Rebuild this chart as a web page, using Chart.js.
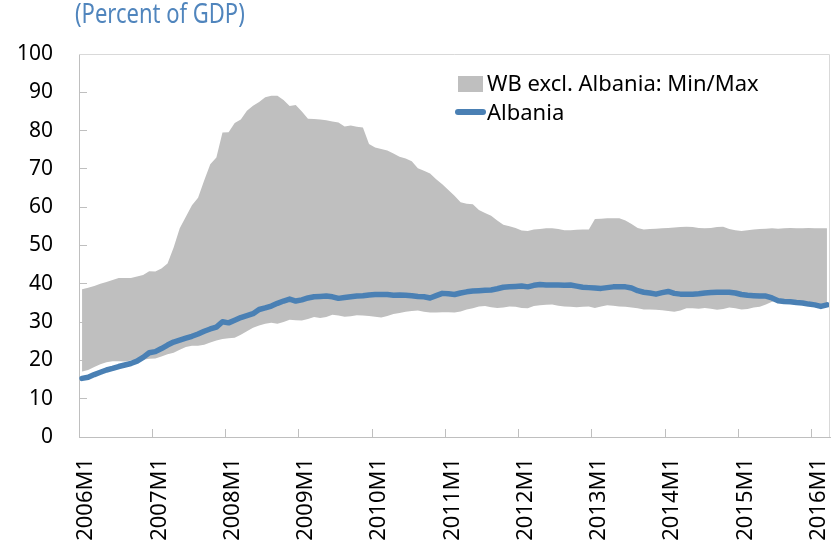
<!DOCTYPE html>
<html>
<head>
<meta charset="utf-8">
<script src="https://cdn.jsdelivr.net/npm/chart.js@4.4.1/dist/chart.umd.min.js"></script>
<style>
  html, body { margin: 0; padding: 0; background: #fff; }
  #wrap { position: relative; width: 831px; height: 541px; }
</style>
</head>
<body>
<div id="wrap"><canvas id="debtChart" width="831" height="541"></canvas></div>
<script>
// monthly, 2006M1 .. 2016M3
const months = [];
for (let y = 2006; y <= 2016; y++) {
    for (let m = 1; m <= 12; m++) {
        if (y === 2016 && m > 3) break;
        months.push(y + 'M' + m);
    }
}

const chartTitle = '(Percent of GDP)';
const bandLabel = 'WB excl. Albania: Min/Max';
const lineLabel = 'Albania';

const wbMax = [
    38.6, 39.0, 39.4, 40.0, 40.5, 41.0, 41.5, 41.5, 41.5, 41.9, 42.3, 43.3,
    43.2, 44.0, 45.3, 49.5, 54.5, 57.5, 60.5, 62.5, 67.0, 71.2, 73.0, 79.5,
    79.6, 82.0, 82.9, 85.2, 86.5, 87.5, 88.7, 89.1, 89.1, 88.0, 86.4, 86.7,
    85.0, 83.1, 83.0, 82.9, 82.7, 82.4, 82.1, 81.1, 81.3, 81.0, 80.8, 76.5,
    75.6, 75.2, 74.8, 74.0, 73.2, 72.7, 72.0, 70.2, 69.5, 68.8, 67.3, 66.0,
    64.5, 63.0, 61.3, 60.9, 60.8, 59.3, 58.5, 57.8, 56.5, 55.4, 55.0, 54.6,
    53.9, 53.8, 54.2, 54.3, 54.5, 54.5, 54.3, 54.0, 54.0, 54.1, 54.2, 54.2,
    56.9, 57.0, 57.1, 57.1, 57.1, 56.5, 55.6, 54.6, 54.2, 54.3, 54.4, 54.5,
    54.6, 54.7, 54.8, 54.9, 54.8, 54.6, 54.5, 54.6, 54.8, 54.9, 54.3, 54.0,
    53.8, 54.0, 54.2, 54.3, 54.4, 54.5, 54.4, 54.5, 54.6, 54.5, 54.5, 54.6,
    54.5, 54.5, 54.5
];

const wbMin = [
    17.1, 17.5, 18.3, 19.0, 19.5, 19.8, 19.8, 19.7, 20.0, 19.9, 20.2, 20.4,
    20.5, 21.0, 21.6, 22.0, 22.8, 23.5, 23.8, 23.8, 24.1, 24.7, 25.2, 25.6,
    25.8, 25.9, 26.7, 27.6, 28.5, 29.1, 29.6, 29.8, 29.6, 30.0, 30.6, 30.5,
    30.4, 30.8, 31.3, 31.1, 31.3, 31.9, 31.7, 31.4, 31.5, 31.8, 31.7, 31.6,
    31.4, 31.2, 31.6, 32.1, 32.4, 32.7, 32.9, 33.0, 32.7, 32.5, 32.5, 32.6,
    32.6, 32.5, 32.8, 33.3, 33.6, 34.1, 34.2, 33.9, 33.7, 33.8, 34.1, 34.0,
    33.7, 33.6, 34.2, 34.4, 34.5, 34.6, 34.3, 34.1, 34.0, 33.9, 34.0, 34.1,
    33.7, 34.1, 34.4, 34.3, 34.1, 34.0, 33.8, 33.6, 33.3, 33.3, 33.2, 33.1,
    32.9, 32.7, 33.0, 33.6, 33.6, 33.5, 33.7, 33.5, 33.2, 33.4, 33.8, 33.6,
    33.3, 33.4, 33.8, 34.0, 34.6, 35.3, 35.8, 35.8, 35.6, 35.4, 35.2, 34.9,
    34.8, 34.5, 34.8
];

const albania = [
    15.3, 15.6, 16.3, 16.9, 17.5, 17.9, 18.4, 18.8, 19.2, 19.8, 20.8, 22.0,
    22.3, 23.1, 24.0, 24.8, 25.3, 25.8, 26.3, 26.9, 27.6, 28.2, 28.7, 30.1,
    29.8, 30.5, 31.2, 31.7, 32.2, 33.3, 33.7, 34.2, 34.9, 35.5, 36.0, 35.5,
    35.8, 36.3, 36.6, 36.7, 36.8, 36.6, 36.2, 36.4, 36.6, 36.8, 36.9, 37.1,
    37.2, 37.2, 37.2, 37.0, 37.1, 37.0, 36.9, 36.7, 36.6, 36.3, 36.9, 37.5,
    37.4, 37.2, 37.6, 37.9, 38.1, 38.2, 38.3, 38.4, 38.7, 39.1, 39.2, 39.3,
    39.4, 39.2, 39.6, 39.8, 39.7, 39.7, 39.7, 39.6, 39.7, 39.4, 39.1, 39.0,
    38.9, 38.8, 39.0, 39.2, 39.2, 39.2, 38.9, 38.2, 37.8, 37.6, 37.3, 37.7,
    38.0, 37.5, 37.3, 37.3, 37.3, 37.4, 37.6, 37.7, 37.8, 37.8, 37.8, 37.6,
    37.2, 37.0, 36.9, 36.8, 36.8, 36.3, 35.6, 35.4, 35.3, 35.1, 35.0, 34.7,
    34.5, 34.1, 34.5
];

const FONT = '"Noto Sans", "Open Sans", sans-serif';
const axisGray = '#bfbfbf';
const bandGray = '#bfbfbf';
const lineBlue = '#4a80b4';

// light box round the plot area (top and right sides)
const frame = {
    id: 'frame',
    afterDraw(chart) {
        const { ctx, chartArea: a } = chart;
        ctx.save();
        ctx.strokeStyle = '#d9d9d9';
        ctx.lineWidth = 1;
        ctx.beginPath();
        ctx.moveTo(a.left, a.top + 0.5);
        ctx.lineTo(a.right - 0.5, a.top + 0.5);
        ctx.lineTo(a.right - 0.5, a.bottom);
        ctx.stroke();
        ctx.restore();
    }
};

// title above the plot and legend inside it
const labels = {
    id: 'labels',
    afterDraw(chart) {
        const ctx = chart.ctx;
        ctx.save();
        ctx.textBaseline = 'alphabetic';
        ctx.textAlign = 'left';
        ctx.font = '22px ' + FONT;

        // the title in the source is drawn taller than wide, and cut at the top
        ctx.save();
        ctx.translate(75, 22.5);
        ctx.scale(1, 1.25);
        ctx.fillStyle = '#5085bd';
        ctx.fillText(chartTitle, 0, 0);
        ctx.restore();

        const band = chart.data.datasets[1];
        const line = chart.data.datasets[0];
        ctx.fillStyle = band.backgroundColor;
        ctx.fillRect(458, 76, 25, 16);
        ctx.fillStyle = '#000';
        ctx.fillText(band.label, 487, 91);

        ctx.strokeStyle = line.borderColor;
        ctx.lineWidth = 6;
        ctx.lineCap = 'round';
        ctx.beginPath();
        ctx.moveTo(458, 112);
        ctx.lineTo(483, 112);
        ctx.stroke();
        ctx.fillText(line.label, 487, 120);
        ctx.restore();
    }
};

new Chart(document.getElementById('debtChart'), {
    type: 'line',
    data: {
        labels: months,
        datasets: [{
            label: lineLabel,
            data: albania,
            borderColor: lineBlue,
            borderWidth: 5.5,
            borderCapStyle: 'round',
            borderJoinStyle: 'round',
            pointRadius: 0,
            tension: 0,
            fill: false
        }, {
            label: bandLabel,
            data: wbMax,
            borderWidth: 0,
            borderColor: 'rgba(0,0,0,0)',
            backgroundColor: bandGray,
            pointRadius: 0,
            tension: 0,
            fill: '+1'
        }, {
            label: 'min',
            data: wbMin,
            borderWidth: 0,
            borderColor: 'rgba(0,0,0,0)',
            backgroundColor: bandGray,
            pointRadius: 0,
            tension: 0,
            fill: false
        }]
    },
    options: {
        responsive: false,
        animation: false,
        layout: { padding: { left: 0, right: 1, top: 54, bottom: 0 } },
        plugins: {
            legend: { display: false },
            tooltip: { enabled: false }
        },
        scales: {
            x: {
                offset: true,
                grid: {
                    offset: true,
                    drawOnChartArea: false,
                    drawTicks: true,
                    tickLength: -8,
                    color: c => (c.index % 12 === 0 ? axisGray : 'rgba(0,0,0,0)')
                },
                border: { color: axisGray, width: 1 },
                ticks: {
                    autoSkip: false,
                    minRotation: 90,
                    maxRotation: 90,
                    padding: 29,
                    labelOffset: 4,
                    color: '#000',
                    font: { family: FONT, size: 22 },
                    callback: (v, i) => (i % 12 === 0 ? months[i] : '')
                },
                afterFit: s => {
                    s.height = 104;
                    s.paddingLeft = 0;
                    s.paddingRight = 0;
                }
            },
            y: {
                min: 0,
                max: 100,
                grid: {
                    drawOnChartArea: false,
                    drawTicks: true,
                    tickLength: -8,
                    color: axisGray
                },
                border: { color: axisGray, width: 1 },
                ticks: {
                    stepSize: 10,
                    padding: 34,
                    color: '#000',
                    font: { family: FONT, size: 21 }
                },
                afterFit: s => {
                    s.width = 79;
                    s.paddingTop = 0;
                    s.paddingBottom = 0;
                }
            }
        }
    },
    plugins: [frame, labels]
});
</script>
</body>
</html>
